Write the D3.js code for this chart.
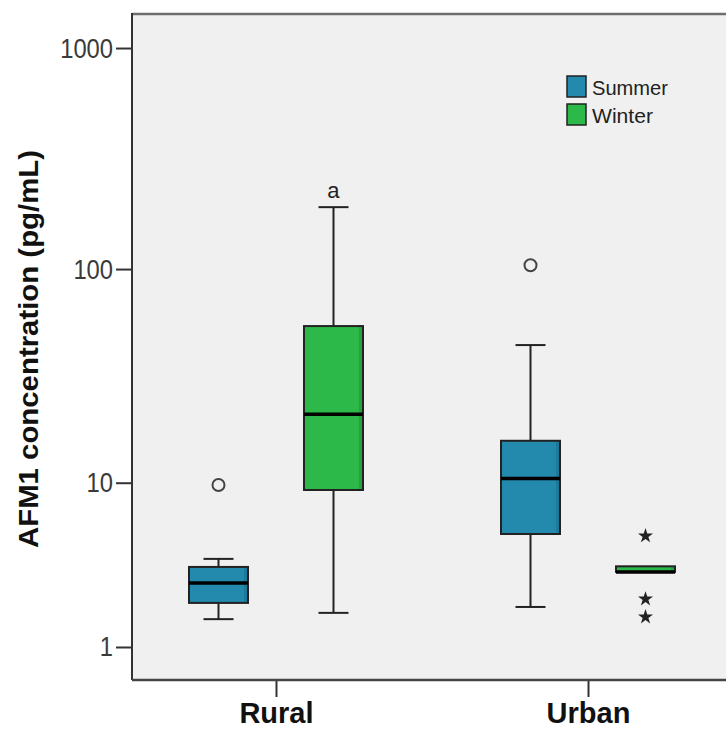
<!DOCTYPE html>
<html lang="en">
<head>
<meta charset="UTF-8">
<script src="https://d3js.org/d3.v7.min.js"></script>
<title>AFM1 boxplot</title>
<style>
    body { margin: 0; background: #fff; }
    text { font-family: "Liberation Sans", Arial, sans-serif; }
</style>
</head>
<body>
<div class="fig"></div>
<script>
// values (safe log axis)
const groups = ["Rural", "Urban"];
const seasons = ["Summer", "Winter"];
const boxGroup  = ["Rural", "Rural", "Urban", "Urban"];
const boxSeason = ["Summer", "Winter", "Summer", "Winter"];
const whiskLow  = [1.67, 1.85, 2.03, 3.36];
const q1        = [2.16, 9.2, 5.46, 3.36];
const median    = [2.89, 21.4, 10.5, 3.36];
const q3        = [3.59, 54.9, 16.0, 3.62];
const whiskHigh = [3.99, 191, 44.9, 3.62];
// outliers (circles) and extremes (stars)
const outGroup  = ["Rural", "Urban"];
const outSeason = ["Summer", "Summer"];
const outValue  = [9.74, 104];
const extGroup  = ["Urban", "Urban", "Urban"];
const extSeason = ["Winter", "Winter", "Winter"];
const extValue  = [5.33, 2.29, 1.73];
const yTicks = [1, 10, 100, 1000];
const noteText = "a";   // marker above rural winter

const colors = { Summer: "#2389ad", Winter: "#2db84a" };
const shades = { Summer: "#1e7a9a", Winter: "#27a040" };

const width = 726, height = 730;
const plot = { left: 132, top: 14, right: 732, bottom: 680 };

const svg = d3.select(".fig").append("svg")
    .attr("width", width)
    .attr("height", height);

const y = d3.scaleSymlog().constant(1)
    .domain([0.42, 1424])
    .range([plot.bottom, plot.top]);

const x = d3.scalePoint()
    .domain(groups)
    .range([plot.left, plot.right])
    .padding(0.4615);

const inner = d3.scalePoint()
    .domain(seasons)
    .range([-57.5, 57.5]);

const boxW = 59;
const capW = 30;
const cx = i => x(boxGroup[i]) + inner(boxSeason[i]);

// background + frame
svg.append("rect")
    .attr("x", plot.left).attr("y", plot.top)
    .attr("width", plot.right - plot.left + 20)
    .attr("height", plot.bottom - plot.top)
    .attr("fill", "#f0f0f0");
svg.append("line")
    .attr("x1", plot.left).attr("x2", width)
    .attr("y1", plot.top).attr("y2", plot.top)
    .attr("stroke", "#6e6e6e").attr("stroke-width", 2.5);

// y axis
const yAxis = svg.append("g")
    .attr("transform", `translate(${plot.left},0)`)
    .call(d3.axisLeft(y).tickValues(yTicks).tickFormat(d3.format("d")).tickSize(16).tickPadding(3));
yAxis.select(".domain").remove();
yAxis.selectAll(".tick line").attr("stroke", "#333").attr("stroke-width", 2);
yAxis.selectAll(".tick text")
    .attr("fill", "#3a3a3a")
    .style("font-size", "28px")
    .attr("textLength", d => String(d).length * 13.2)
    .attr("lengthAdjust", "spacingAndGlyphs");

// x axis
const xAxis = svg.append("g")
    .attr("transform", `translate(0,${plot.bottom})`)
    .call(d3.axisBottom(x).tickSize(17));
xAxis.select(".domain").remove();
xAxis.selectAll(".tick line").attr("stroke", "#333").attr("stroke-width", 2);
xAxis.selectAll(".tick text")
    .attr("y", 43)
    .attr("dy", 0)
    .attr("fill", "#111")
    .style("font-size", "29px")
    .style("font-weight", "bold");

// frame lines
svg.append("line")
    .attr("x1", plot.left).attr("x2", plot.left)
    .attr("y1", plot.top - 1).attr("y2", plot.bottom)
    .attr("stroke", "#333").attr("stroke-width", 2);
svg.append("line")
    .attr("x1", plot.left).attr("x2", width)
    .attr("y1", plot.bottom).attr("y2", plot.bottom)
    .attr("stroke", "#444").attr("stroke-width", 2.5);

// y title
svg.append("text")
    .attr("transform", `translate(38,${(plot.top + plot.bottom) / 2 + 2}) rotate(-90)`)
    .attr("text-anchor", "middle")
    .attr("fill", "#111")
    .style("font-size", "28px")
    .style("font-weight", "bold")
    .attr("textLength", 398)
    .attr("lengthAdjust", "spacingAndGlyphs")
    .text("AFM1 concentration (pg/mL)");

// boxes
const idx = d3.range(boxGroup.length);
const boxes = svg.append("g").selectAll("g")
    .data(idx)
    .enter()
    .append("g");

boxes.append("line")
    .attr("x1", cx).attr("x2", cx)
    .attr("y1", i => y(whiskLow[i])).attr("y2", i => y(whiskHigh[i]))
    .attr("stroke", "#222").attr("stroke-width", 2);
boxes.filter(i => whiskHigh[i] > q3[i]).append("line")
    .attr("x1", i => cx(i) - capW / 2).attr("x2", i => cx(i) + capW / 2)
    .attr("y1", i => y(whiskHigh[i])).attr("y2", i => y(whiskHigh[i]))
    .attr("stroke", "#222").attr("stroke-width", 2);
boxes.filter(i => whiskLow[i] < q1[i]).append("line")
    .attr("x1", i => cx(i) - capW / 2).attr("x2", i => cx(i) + capW / 2)
    .attr("y1", i => y(whiskLow[i])).attr("y2", i => y(whiskLow[i]))
    .attr("stroke", "#222").attr("stroke-width", 2);

boxes.append("rect")
    .attr("x", i => cx(i) - boxW / 2)
    .attr("width", boxW)
    .attr("y", i => y(q3[i]))
    .attr("height", i => y(q1[i]) - y(q3[i]))
    .attr("fill", i => colors[boxSeason[i]]);
// darker strip along the right edge
boxes.append("rect")
    .attr("x", i => cx(i) + boxW / 2 - 4)
    .attr("width", 4)
    .attr("y", i => y(q3[i]))
    .attr("height", i => y(q1[i]) - y(q3[i]))
    .attr("fill", i => shades[boxSeason[i]]);
boxes.append("rect")
    .attr("x", i => cx(i) - boxW / 2)
    .attr("width", boxW)
    .attr("y", i => y(q3[i]))
    .attr("height", i => y(q1[i]) - y(q3[i]))
    .attr("fill", "none")
    .attr("stroke", "#222").attr("stroke-width", 2);

boxes.append("line")
    .attr("x1", i => cx(i) - boxW / 2).attr("x2", i => cx(i) + boxW / 2)
    .attr("y1", i => y(median[i])).attr("y2", i => y(median[i]))
    .attr("stroke", "#000").attr("stroke-width", 3.5);

// outliers
svg.append("g").selectAll("circle")
    .data(outValue)
    .enter()
    .append("circle")
    .attr("cx", (d, i) => x(outGroup[i]) + inner(outSeason[i]))
    .attr("cy", d => y(d))
    .attr("r", 6)
    .attr("fill", "none")
    .attr("stroke", "#444").attr("stroke-width", 2);

// extremes
svg.append("g").selectAll("path")
    .data(extValue)
    .enter()
    .append("path")
    .attr("d", d3.symbol().type(d3.symbolStar).size(70))
    .attr("transform", (d, i) => `translate(${x(extGroup[i]) + inner(extSeason[i])},${y(d)})`)
    .attr("fill", "#222");

// note over rural winter whisker
svg.append("text")
    .attr("x", x("Rural") + inner("Winter"))
    .attr("y", y(whiskHigh[1]) - 9)
    .attr("text-anchor", "middle")
    .attr("fill", "#222")
    .style("font-size", "22px")
    .text(noteText);

// legend
const legend = svg.append("g")
    .attr("transform", "translate(567,76)");
const legendLen = { Summer: 76, Winter: 61 };
seasons.forEach((s, i) => {
    const g = legend.append("g").attr("transform", `translate(0,${i * 28})`);
    g.append("rect")
        .attr("width", 19).attr("height", 21)
        .attr("fill", colors[s])
        .attr("stroke", "#222").attr("stroke-width", 1.5);
    g.append("text")
        .attr("x", 25).attr("y", 19)
        .attr("fill", "#222")
        .style("font-size", "21px")
        .attr("textLength", legendLen[s])
        .attr("lengthAdjust", "spacingAndGlyphs")
        .text(s);
});
</script>
</body>
</html>
